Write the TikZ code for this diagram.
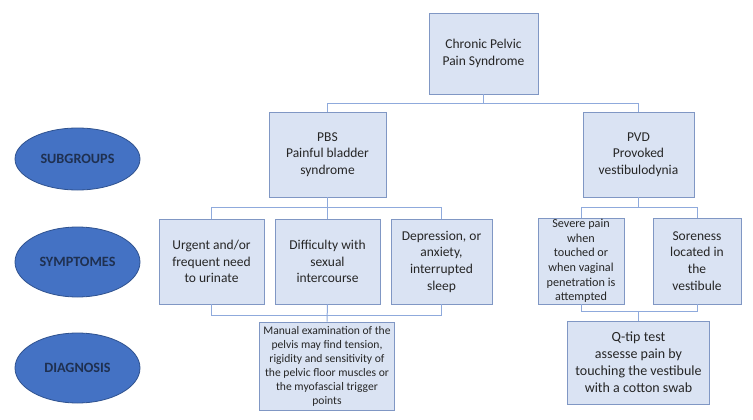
\documentclass[tikz,border=0pt]{standalone}
\usepackage{fontspec}
\setmainfont{Carlito}
\definecolor{boxfill}{HTML}{DAE3F3}
\definecolor{boxline}{HTML}{8097C4}
\definecolor{busline}{HTML}{8FAADC}
\definecolor{ovalfill}{HTML}{4472C4}
\definecolor{ovalline}{HTML}{2F528F}
\definecolor{ovaltext}{HTML}{1F3050}
\tikzset{
  box/.style={draw=boxline, fill=boxfill, line width=0.9pt, align=center,
    inner sep=2pt, text=black!85, font=\fontsize{13.5}{16.7}\selectfont},
  small/.style={font=\fontsize{12.2}{14.6}\selectfont},
  tiny/.style={font=\fontsize{11.6}{14}\selectfont},
  oval/.style={ellipse, draw=ovalline, fill=ovalfill, line width=0.8pt,
    minimum width=125pt, text=ovaltext, font=\fontsize{14.2}{16}\selectfont\bfseries},
  bus/.style={draw=busline, line width=1pt}
}
\usetikzlibrary{shapes.geometric}
\begin{document}
\begin{tikzpicture}[x=1pt, y=-1pt]
  \useasboundingbox (0,0) rectangle (753,420);

  % row labels
  \node[oval, minimum height=62pt] (subgroups) at (77.5,159) {SUBGROUPS};
  \node[oval, minimum height=70pt] (symptomes) at (77.5,262) {SYMPTOMES};
  \node[oval, minimum height=70pt] (diagnosis) at (77.5,368) {DIAGNOSIS};

  % top
  \node[box, minimum width=109pt, minimum height=81pt] (cpps) at (483.5,53.5)
    {Chronic Pelvic\\Pain Syndrome};

  % subgroups
  \node[box, minimum width=117pt, minimum height=85pt] (pbs) at (327.5,154.5)
    {PBS\\Painful bladder\\syndrome};
  \node[box, minimum width=111pt, minimum height=85pt] (pvd) at (638.5,154.5)
    {PVD\\Provoked\\vestibulodynia};

  % symptoms of PBS
  \node[box, minimum width=105pt, minimum height=85pt] (urinate) at (211.5,261.5)
    {Urgent and/or\\frequent need\\to urinate};
  \node[box, minimum width=105pt, minimum height=85pt] (sexual) at (327.5,261.5)
    {Difficulty with\\sexual\\intercourse};
  \node[box, minimum width=101pt, minimum height=85pt] (sleep) at (441.5,261.5)
    {Depression, or\\anxiety,\\interrupted\\sleep};

  % symptoms of PVD
  \node[box, small, minimum width=86pt, minimum height=86pt, inner sep=1pt] (pain) at (581,261)
    {Severe pain\\when\\touched or\\when vaginal\\penetration is\\attempted};
  \node[box, minimum width=88pt, minimum height=86pt] (soreness) at (697,261)
    {Soreness\\located in\\the\\vestibule};

  % diagnosis
  \node[box, tiny, minimum width=135pt, minimum height=88pt, inner sep=1pt] (manual) at (327,366)
    {Manual examination of the\\pelvis may find tension,\\rigidity and sensitivity of\\the pelvic floor muscles or\\the myofascial trigger\\points};
  \node[box, font=\fontsize{14}{17}\selectfont, minimum width=142pt, minimum height=83pt] (qtip) at (638.5,362.5)
    {Q-tip test\\assesse pain by\\touching the vestibule\\with a cotton swab};

  % connectors
  \draw[bus] (cpps.south) -- ++(0,9) -| (pbs.north);
  \draw[bus] (cpps.south) -- ++(0,9) -| (pvd.north);
  \foreach \s in {urinate,sexual,sleep}
    \draw[bus] (pbs.south) -- ++(0,10) -| (\s.north);
  \foreach \s in {pain,soreness}
    \draw[bus] (pvd.south) -- ++(0,10) -| (\s.north);

  \coordinate (lbus) at (0,315);
  \coordinate (rbus) at (0,311);
  \draw[bus] (urinate.south) |- (sleep.south |- lbus) -- (sleep.south);
  \draw[bus] (sexual.south) -- (manual.north);
  \draw[bus] (pain.south) |- (soreness.south |- rbus) -- (soreness.south);
  \draw[bus] (qtip.north) -- (qtip.north |- rbus);
\end{tikzpicture}
\end{document}
